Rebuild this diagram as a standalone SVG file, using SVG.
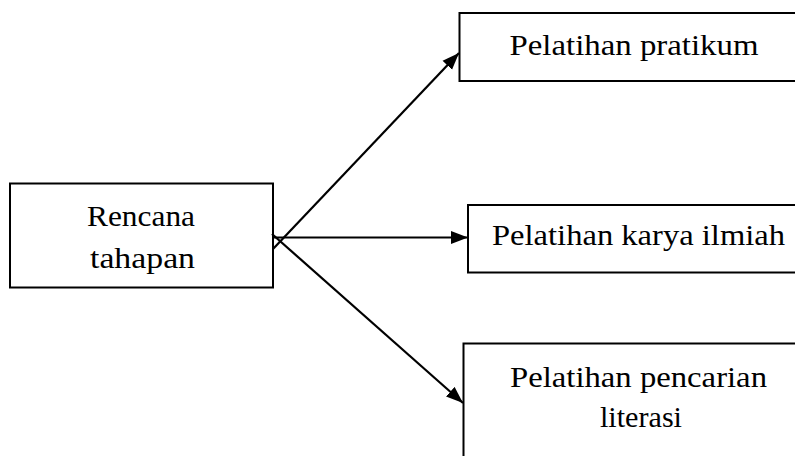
<svg xmlns="http://www.w3.org/2000/svg" width="795" height="456" viewBox="0 0 795 456">
<defs>
<marker id="arr" markerUnits="userSpaceOnUse" markerWidth="18" markerHeight="14" refX="17" refY="7" orient="auto">
<path d="M0,0.5 L17,7 L0,13.5 z" fill="#000"/>
</marker>
<style>
.box{fill:#fff;stroke:#000;stroke-width:2}
.lbl{font-family:"Liberation Serif","Times New Roman",serif;font-size:30px;fill:#000;text-anchor:middle}
.con{stroke:#000;stroke-width:2.2;fill:none}
</style>
</defs>
<rect width="795" height="456" fill="#fff"/>
<g id="node-rencana">
<rect class="box" x="10" y="183.5" width="263" height="104"/>
<text class="lbl" x="141" y="226" textLength="108" lengthAdjust="spacingAndGlyphs">Rencana</text>
<text class="lbl" x="142.5" y="267.5" textLength="105" lengthAdjust="spacingAndGlyphs">tahapan</text>
</g>
<g id="node-pratikum">
<rect class="box" x="459.5" y="13" width="345" height="68"/>
<text class="lbl" x="634" y="55" textLength="249" lengthAdjust="spacingAndGlyphs">Pelatihan pratikum</text>
</g>
<g id="node-karya">
<rect class="box" x="468" y="205" width="345" height="67.5"/>
<text class="lbl" x="638.5" y="245" textLength="293" lengthAdjust="spacingAndGlyphs">Pelatihan karya ilmiah</text>
</g>
<g id="node-literasi">
<rect class="box" x="463.5" y="343.5" width="345" height="130"/>
<text class="lbl" x="638.5" y="386.5" textLength="257" lengthAdjust="spacingAndGlyphs">Pelatihan pencarian</text>
<text class="lbl" x="641" y="426.5" textLength="82" lengthAdjust="spacingAndGlyphs">literasi</text>
</g>
<g id="connectors">
<line class="con" x1="273" y1="249" x2="459" y2="53" marker-end="url(#arr)"/>
<line class="con" x1="273" y1="237.5" x2="468" y2="237.5" marker-end="url(#arr)"/>
<line class="con" x1="272" y1="234" x2="463" y2="403" marker-end="url(#arr)"/>
</g>
</svg>
